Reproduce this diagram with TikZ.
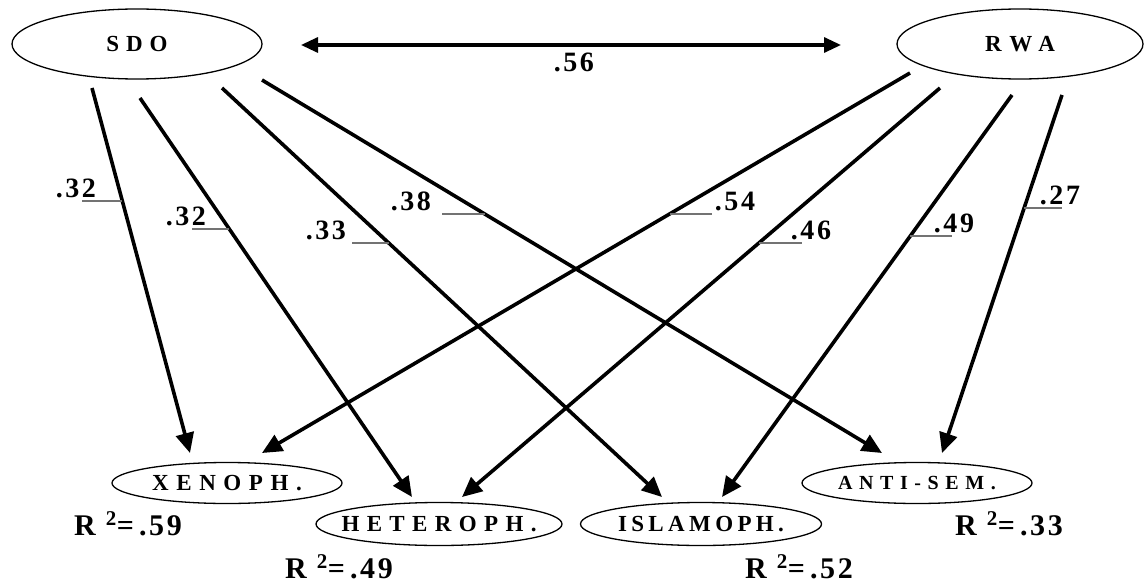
\documentclass[tikz,border=0pt]{standalone}
\usepackage{fontspec}
\setmainfont{Liberation Serif}
\usetikzlibrary{shapes.geometric,arrows.meta}
\newcommand\lsfont[2]{\fontspec{Liberation Serif Bold}[LetterSpace=#2]\fontsize{#1}{#1}\selectfont}
\tikzset{
  ell/.style={draw, ellipse, line width=1.3pt, inner sep=0pt},
  conn/.style={line width=3.6pt, -{Triangle[length=20pt,width=18pt]}},
  dbl/.style={line width=3.2pt, {Triangle[length=17pt,width=15pt]}-{Triangle[length=17pt,width=15pt]}},
  coef/.style={font=\lsfont{28}{9}, anchor=base, inner sep=0pt},
  rsq/.style={font=\lsfont{30}{9}, anchor=base, inner sep=0pt},
  lead/.style={draw=black!55, line width=1.3pt}
}
\begin{document}
\begin{tikzpicture}[x=1pt,y=-1pt]
\useasboundingbox (0,0) rectangle (1145,583);
% latent variables
\node[ell, minimum width=250pt, minimum height=70pt] (sdo) at (137,44) {\makebox[0pt]{\lsfont{23}{30}SDO}};
\node[ell, minimum width=246pt, minimum height=70pt] (rwa) at (1020,44) {\makebox[0pt]{\lsfont{23}{37}RWA}};
% outcomes
\node[ell, minimum width=230pt, minimum height=41pt] (xen) at (227,483) {\makebox[0pt]{\lsfont{23}{33}XENOPH.}};
\node[ell, minimum width=246pt, minimum height=43pt] (het) at (439,524) {\makebox[0pt]{\lsfont{23}{32}HETEROPH.}};
\node[ell, minimum width=241pt, minimum height=43pt] (isl) at (701,524) {\makebox[0pt]{\lsfont{23}{19}ISLAMOPH.}};
\node[ell, minimum width=230pt, minimum height=41pt] (ant) at (917,483) {\makebox[0pt]{\lsfont{20}{33}ANTI-SEM.}};
% connector end points
\coordinate (s1) at (92,88);   \coordinate (e1) at (190,453);
\coordinate (s2) at (140,98);  \coordinate (e2) at (412,497);
\coordinate (s3) at (222,88);  \coordinate (e3) at (662,497);
\coordinate (s4) at (262,80);  \coordinate (e4) at (882,453);
\coordinate (r1) at (910,73);  \coordinate (f1) at (262,453);
\coordinate (r2) at (940,88);  \coordinate (f2) at (462,497);
\coordinate (r3) at (1012,95); \coordinate (f3) at (722,497);
\coordinate (r4) at (1062,95); \coordinate (f4) at (942,453);
\coordinate (ca) at (301,45);  \coordinate (cb) at (841,45);
% correlation
\draw[dbl] (ca) -- (cb);
\node[coef] (c56) at (574,72) {.56};
% paths
\draw[conn] (s1) -- (e1);
\draw[conn] (s2) -- (e2);
\draw[conn] (s3) -- (e3);
\draw[conn] (s4) -- (e4);
\draw[conn] (r1) -- (f1);
\draw[conn] (r2) -- (f2);
\draw[conn] (r3) -- (f3);
\draw[conn] (r4) -- (f4);
% coefficient labels
\node[coef] (l1) at (76,197) {.32};
\node[coef] (l2) at (186,225) {.32};
\node[coef] (l3) at (326,239) {.33};
\node[coef] (l4) at (411,210) {.38};
\node[coef] (l5) at (735,210) {.54};
\node[coef] (l6) at (811,239) {.46};
\node[coef] (l7) at (954,232) {.49};
\node[coef] (l8) at (1060,204) {.27};
% leader lines
\draw[lead] (82,201) -- (122,201);
\draw[lead] (192,229) -- (229,229);
\draw[lead] (352,243) -- (389,243);
\draw[lead] (442,214) -- (485,214);
\draw[lead] (670,214) -- (712,214);
\draw[lead] (759,243) -- (802,243);
\draw[lead] (910,236) -- (952,236);
\draw[lead] (1024,208) -- (1062,208);
% R squared
\node[rsq] (q1) at (128,535) {R \textsuperscript{2}=\,.59};
\node[rsq] (q2) at (339,578) {R \textsuperscript{2}=\,.49};
\node[rsq] (q3) at (799,578) {R \textsuperscript{2}=\,.52};
\node[rsq] (q4) at (1009,535) {R \textsuperscript{2}=\,.33};
\end{tikzpicture}
\end{document}
